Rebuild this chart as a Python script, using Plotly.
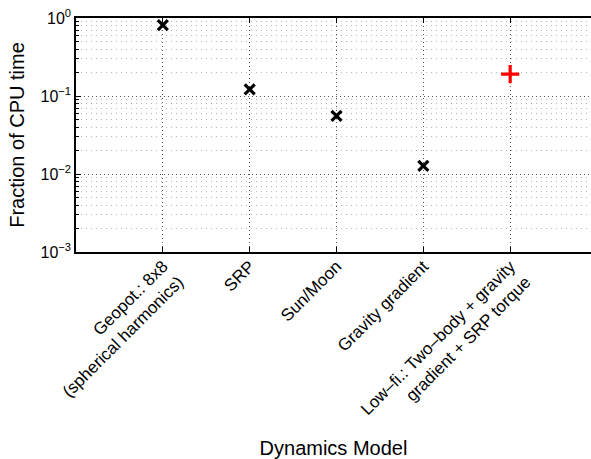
import plotly.graph_objects as go

categories = ["Geopot.: 8x8<br>(spherical harmonics)", "SRP", "Sun/Moon",
              "Gravity gradient", "Low–fi.: Two–body + gravity<br>gradient + SRP torque"]
positions = [1, 2, 3, 4, 5]
hifi_pos = [1, 2, 3, 4]
hifi_vals = [0.81, 0.122, 0.0555, 0.0127]
lofi_pos = [5]
lofi_vals = [0.191]
ytick_vals = [1e-3, 1e-2, 1e-1, 1]
ytick_text = ["10<sup>−3</sup>", "10<sup>−2</sup>", "10<sup>−1</sup>", "10<sup>0</sup>"]
minor_vals = [m * d for d in (1e-3, 1e-2, 1e-1) for m in range(2, 10)]

font = "Liberation Sans, Arial, Helvetica, sans-serif"

fig = go.Figure()
fig.add_trace(go.Scatter(x=hifi_pos, y=hifi_vals, mode="markers",
                         marker=dict(symbol="x-thin", size=10, line=dict(color="black", width=3.2)),
                         showlegend=False))
fig.add_trace(go.Scatter(x=lofi_pos, y=lofi_vals, mode="markers",
                         marker=dict(symbol="cross-thin", size=13, line=dict(color="red", width=3.2)),
                         showlegend=False))

fig.update_layout(
    width=591, height=459,
    margin=dict(l=76, r=0, t=18, b=207),
    plot_bgcolor="white", paper_bgcolor="white",
    font=dict(family=font, size=17, color="black"),
    xaxis=dict(
        range=[0, 6 * (591 - 76) / (597 - 76)],
        tickvals=positions, ticktext=categories, tickangle=-45,
        ticks="inside", ticklen=5, tickcolor="black",
        showline=True, linecolor="black", linewidth=1.5, mirror="ticks",
        showgrid=True, gridcolor="#555555", griddash="1px,3px", gridwidth=1,
        zeroline=False, automargin=False, ticklabeloverflow="allow",
        ticklabelstandoff=-4,
        title=dict(text="Dynamics Model", font=dict(size=20), standoff=12),
        tickfont=dict(size=17),
    ),
    yaxis=dict(
        type="log", range=[-3, 0],
        tickvals=ytick_vals, ticktext=ytick_text,
        ticks="inside", ticklen=5, tickcolor="black",
        showline=True, linecolor="black", linewidth=1.5, mirror=False,
        showgrid=True, gridcolor="#555555", griddash="1px,3px", gridwidth=1,
        minor=dict(tickvals=minor_vals, showgrid=True, gridcolor="#b5b5b5",
                   griddash="1px,4px", gridwidth=1,
                   ticks="inside", ticklen=3, tickcolor="black"),
        zeroline=False, automargin=False, ticklabeloverflow="allow",
        title=dict(text="Fraction of CPU time", font=dict(size=20), standoff=10),
        tickfont=dict(size=16),
    ),
)

fig.write_html("out.html", config={"displayModeBar": False},
               post_script="document.body.style.margin='0';document.body.style.overflow='hidden';")
